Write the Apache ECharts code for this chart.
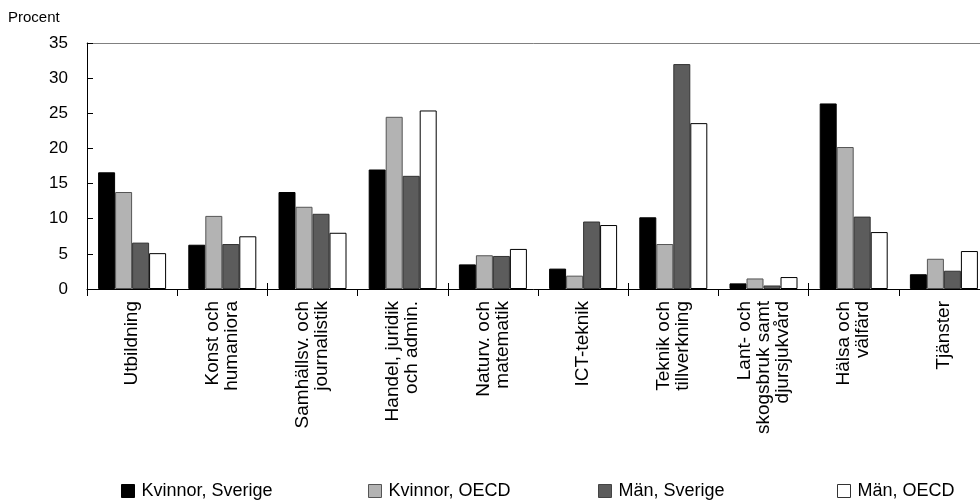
<!DOCTYPE html>
<html>
<head>
<meta charset="utf-8">
<script src="https://cdn.jsdelivr.net/npm/echarts@6/dist/echarts.min.js"></script>
<style>
html,body{margin:0;padding:0;background:#fff;}
#chart{width:980px;height:504px;}
</style>
</head>
<body>
<div id="chart"></div>
<script>
const categories = ['Utbildning', 'Konst och\nhumaniora', 'Samhällsv. och\njournalistik', 'Handel, juridik\noch admin.', 'Naturv. och\nmatematik', 'ICT-teknik', 'Teknik och\ntillverkning', 'Lant- och\nskogsbruk samt\ndjursjukvård', 'Hälsa och\nvälfärd', 'Tjänster'];
const seriesNames = ['Kvinnor, Sverige', 'Kvinnor, OECD', 'Män, Sverige', 'Män, OECD'];
const kvinnorSverige = [16.6, 6.3, 13.8, 17.0, 3.5, 2.9, 10.2, 0.8, 26.4, 2.1];
const kvinnorOECD = [13.8, 10.4, 11.7, 24.5, 4.8, 1.9, 6.4, 1.5, 20.2, 4.3];
const manSverige = [6.6, 6.4, 10.7, 16.1, 4.7, 9.6, 32.0, 0.5, 10.3, 2.6];
const manOECD = [5.1, 7.5, 8.0, 25.4, 5.7, 9.1, 23.6, 1.7, 8.1, 5.4];
const yTicks = [0, 5, 10, 15, 20, 25, 30, 35];

const FONT = 'Liberation Sans, Arial, sans-serif';
const colors = ['#000000', '#b3b3b3', '#5c5c5c', '#ffffff'];
const borders = ['#000000', '#555555', '#333333', '#000000'];
const legendBorders = ['#000000', '#555555', '#444444', '#333333'];
const values = [kvinnorSverige, kvinnorOECD, manSverige, manOECD];
const legendLeft = [116, 363, 593, 832];

const chart = echarts.init(document.getElementById('chart'), null, {renderer: 'canvas'});
chart.setOption({
  animation: false,
  backgroundColor: '#ffffff',
  textStyle: {fontFamily: FONT},
  grid: {left: 87, top: 43, bottom: 215, width: 902, containLabel: false, outerBoundsMode: 'none'},
  graphic: [{
    type: 'text', left: 8, top: 10,
    style: {text: 'Procent', font: '15px ' + FONT, fill: '#000'}
  }],
  legend: seriesNames.map((n, i) => ({
    data: [n],
    left: legendLeft[i], top: 477,
    itemWidth: 13, itemHeight: 13, itemGap: 0,
    icon: 'rect',
    textStyle: {fontSize: 18, color: '#000', fontFamily: FONT, padding: [0, 0, 0, 2]},
    itemStyle: {borderColor: legendBorders[i], borderWidth: 1}
  })),
  xAxis: [{
    type: 'category', data: categories, position: 'bottom',
    axisLine: {show: true, lineStyle: {color: '#000', width: 1}},
    axisTick: {show: true, inside: false, length: 7, lineStyle: {color: '#000'}},
    axisLabel: {rotate: 90, margin: 12, fontSize: 19, color: '#000', fontFamily: FONT, interval: 0, lineHeight: 19},
    splitLine: {show: false}
  }, {
    type: 'category', data: categories, position: 'bottom',
    axisLine: {show: false},
    axisTick: {show: true, inside: true, length: 6, lineStyle: {color: '#000'}},
    axisLabel: {show: false},
    splitLine: {show: false}
  }, {
    type: 'category', data: categories, position: 'top',
    axisLine: {show: true, lineStyle: {color: '#808080', width: 1}},
    axisTick: {show: false}, axisLabel: {show: false}, splitLine: {show: false}
  }],
  yAxis: {
    type: 'value', min: yTicks[0], max: yTicks[yTicks.length - 1], interval: 5,
    axisLine: {show: true, lineStyle: {color: '#000', width: 1}},
    axisTick: {show: true, inside: true, length: 6, lineStyle: {color: '#000'}},
    axisLabel: {fontSize: 17, color: '#000', fontFamily: FONT, margin: 19},
    splitLine: {show: false}
  },
  series: seriesNames.map((n, i) => ({
    name: n, type: 'bar', data: values[i],
    barWidth: 17, barGap: '0%',
    itemStyle: {color: colors[i], borderColor: borders[i], borderWidth: 1}
  }))
});
</script>
</body>
</html>
